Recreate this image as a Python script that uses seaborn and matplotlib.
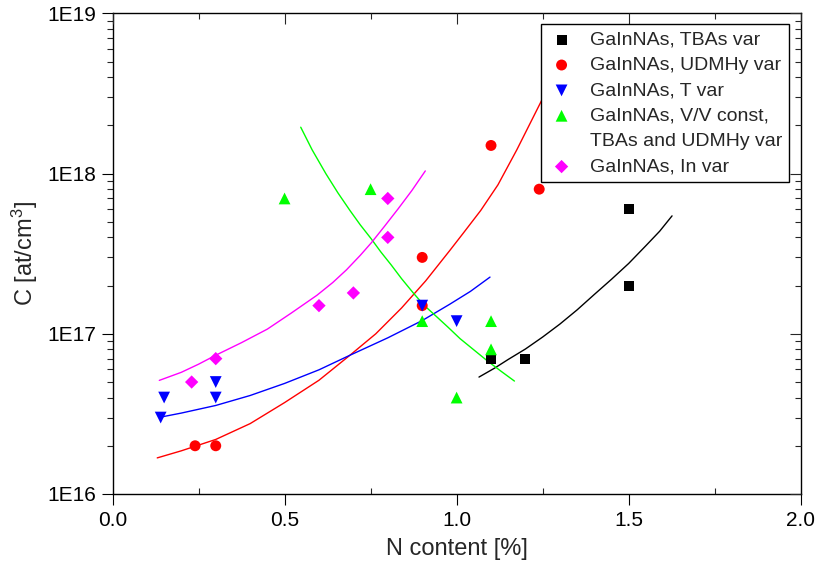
import numpy as np
import pandas as pd
import matplotlib
matplotlib.use("Agg")
import matplotlib.pyplot as plt
import seaborn as sns
from matplotlib.lines import Line2D
from matplotlib.ticker import MultipleLocator, FuncFormatter, NullFormatter, LogLocator

# ------------------------------------------------------------------
# measured points
# ------------------------------------------------------------------
tbas_x = [1.1, 1.2, 1.5, 1.5]
tbas_c = [7e16, 7e16, 6e17, 2e17]

udmhy_x = [0.24, 0.30, 0.90, 0.90, 1.10, 1.24]
udmhy_c = [2e16, 2e16, 3e17, 1.5e17, 1.5e18, 8e17]

tvar_x = [0.14, 0.15, 0.30, 0.30, 0.90, 1.00]
tvar_c = [3e16, 4e16, 4e16, 5e16, 1.5e17, 1.2e17]

vv_x = [0.50, 0.75, 0.90, 1.00, 1.10, 1.10]
vv_c = [7e17, 8e17, 1.2e17, 4e16, 1.2e17, 8e16]

invar_x = [0.23, 0.30, 0.60, 0.70, 0.80, 0.80]
invar_c = [5e16, 7e16, 1.5e17, 1.8e17, 4e17, 7e17]

# fit curves
fit_tbas_x = [1.065, 1.11, 1.15, 1.20, 1.25, 1.30, 1.35, 1.40, 1.45, 1.50,
              1.55, 1.59, 1.626]
fit_tbas_c = [5.37e16, 6.10e16, 6.92e16, 8.04e16, 9.55e16, 1.15e17, 1.41e17,
              1.76e17, 2.19e17, 2.75e17, 3.55e17, 4.37e17, 5.45e17]

fit_udmhy_x = [0.13, 0.20, 0.30, 0.40, 0.50, 0.60, 0.69, 0.765, 0.84, 0.91,
               0.98, 1.02, 1.07, 1.12, 1.175, 1.25, 1.32]
fit_udmhy_c = [1.68e16, 1.86e16, 2.19e16, 2.75e16, 3.72e16, 5.13e16, 7.35e16,
               1.00e17, 1.45e17, 2.14e17, 3.31e17, 4.27e17, 5.89e17, 8.51e17,
               1.41e18, 2.95e18, 6.31e18]

fit_tvar_x = [0.14, 0.20, 0.30, 0.40, 0.50, 0.60, 0.69, 0.80, 0.90, 0.98,
              1.04, 1.097]
fit_tvar_c = [3.02e16, 3.20e16, 3.57e16, 4.12e16, 4.90e16, 5.96e16, 7.35e16,
              9.44e16, 1.21e17, 1.53e17, 1.84e17, 2.26e17]

fit_vv_x = [0.547, 0.58, 0.62, 0.655, 0.69, 0.72, 0.751, 0.78, 0.81, 0.84,
            0.874, 0.905, 0.94, 0.975, 1.01, 1.05, 1.09, 1.13, 1.168]
fit_vv_c = [1.95e18, 1.41e18, 1.00e18, 7.59e17, 5.89e17, 4.79e17, 3.94e17,
            3.24e17, 2.69e17, 2.21e17, 1.80e17, 1.51e17, 1.29e17, 1.10e17,
            9.33e16, 7.94e16, 6.76e16, 5.82e16, 5.07e16]

fit_invar_x = [0.136, 0.20, 0.25, 0.30, 0.375, 0.45, 0.52, 0.594, 0.64, 0.68,
               0.72, 0.753, 0.79, 0.83, 0.87, 0.909]
fit_invar_c = [5.12e16, 5.75e16, 6.46e16, 7.35e16, 8.81e16, 1.07e17, 1.35e17,
               1.74e17, 2.09e17, 2.51e17, 3.09e17, 3.72e17, 4.68e17, 6.03e17,
               7.85e17, 1.04e18]

labels = ["GaInNAs, TBAs var", "GaInNAs, UDMHy var", "GaInNAs, T var",
          "GaInNAs, V/V const,", "GaInNAs, In var"]
label_cont = "TBAs and UDMHy var"   # second line of the V/V entry
colors = ["#000000", "#FF0000", "#0000FF", "#00FF00", "#FF00FF"]
markers = ["s", "o", "v", "^", "D"]
msizes = [52, 62, 72, 72, 46]

series = [(tbas_x, tbas_c), (udmhy_x, udmhy_c), (tvar_x, tvar_c),
          (vv_x, vv_c), (invar_x, invar_c)]
fits = [(fit_tbas_x, fit_tbas_c), (fit_udmhy_x, fit_udmhy_c),
        (fit_tvar_x, fit_tvar_c), (fit_vv_x, fit_vv_c),
        (fit_invar_x, fit_invar_c)]

# ------------------------------------------------------------------
# style
# ------------------------------------------------------------------
sns.set_theme(style="ticks")
plt.rcParams['font.family'] = ['Liberation Sans', 'DejaVu Sans']
plt.rcParams['mathtext.default'] = 'regular'
plt.rcParams['axes.linewidth'] = 1.0
plt.rcParams['axes.edgecolor'] = 'black'

fig = plt.figure(figsize=(8.17, 5.72), dpi=100)
ax = fig.add_axes([0.1377, 0.1364, 0.8424, 0.8400])

for (fx, fc), col in zip(fits, colors):
    df = pd.DataFrame({"x": fx, "c": fc})
    sns.lineplot(data=df, x="x", y="c", color=col, lw=1.0, estimator=None,
                 sort=False, legend=False, ax=ax, zorder=2)

for (sx, sc), lab, col, mk, ms in zip(series, labels, colors, markers, msizes):
    df = pd.DataFrame({"x": sx, "c": sc})
    sns.scatterplot(data=df, x="x", y="c", color=col, marker=mk, s=ms,
                    edgecolor="none", label=lab, ax=ax, zorder=3)

ax.set_yscale("log")
ax.set_xlim(0, 2.0)
ax.set_ylim(1e16, 1e19)
ax.xaxis.set_major_locator(MultipleLocator(0.5))
ax.xaxis.set_minor_locator(MultipleLocator(0.25))
ax.xaxis.set_major_formatter(FuncFormatter(lambda v, _: f"{v:.1f}"))
ax.yaxis.set_major_locator(LogLocator(base=10, numticks=10))
ax.yaxis.set_minor_locator(LogLocator(base=10, subs=np.arange(2, 10), numticks=20))
ax.yaxis.set_major_formatter(FuncFormatter(lambda v, _: f"1E{int(round(np.log10(v)))}"))
ax.yaxis.set_minor_formatter(NullFormatter())

ax.tick_params(which="major", direction="out", length=8, width=0.8,
               labelsize=15, pad=4, colors="black")
ax.tick_params(axis="y", which="minor", direction="out", length=4, width=0.8)
ax.tick_params(axis="x", which="minor", direction="in", length=4, width=0.8)

ax.set_xlabel("N content [%]", fontsize=17, labelpad=6)
ax.set_ylabel("C [at/cm$^3$]", fontsize=17, labelpad=5)

# inward ticks on the opposite spines
ax_r = ax.twinx()
ax_r.set_yscale("log")
ax_r.set_ylim(1e16, 1e19)
ax_r.yaxis.set_major_locator(LogLocator(base=10, numticks=10))
ax_r.yaxis.set_minor_locator(LogLocator(base=10, subs=np.arange(2, 10), numticks=20))
ax_r.tick_params(which="major", direction="in", length=8, width=0.8, labelright=False)
ax_r.tick_params(which="minor", direction="in", length=4, width=0.8, labelright=False)
ax_r.yaxis.set_minor_formatter(NullFormatter())

ax_t = ax.twiny()
ax_t.set_xlim(0, 2.0)
ax_t.xaxis.set_major_locator(MultipleLocator(0.5))
ax_t.xaxis.set_minor_locator(MultipleLocator(0.25))
ax_t.tick_params(which="major", direction="in", length=8, width=0.8, labeltop=False)
ax_t.tick_params(which="minor", direction="in", length=4, width=0.8, labeltop=False)

for a in (ax_r, ax_t):
    for sp in a.spines.values():
        sp.set_visible(False)

handles, labs = ax.get_legend_handles_labels()
if ax.get_legend():
    ax.get_legend().remove()
blank = Line2D([], [], linestyle="none", marker=None)
handles = handles[:4] + [blank] + handles[4:]
labs = labs[:4] + [label_cont] + labs[4:]
leg = ax_t.legend(handles, labs, loc="upper right",
                  bbox_to_anchor=(0.983, 0.9775), bbox_transform=ax.transAxes,
                  borderaxespad=0, fontsize=14, frameon=True, fancybox=False,
                  edgecolor="black", framealpha=1, scatterpoints=1,
                  handlelength=1.45, handletextpad=0.73, borderpad=0.35,
                  labelspacing=0.4)
leg.get_frame().set_linewidth(1.0)
leg.set_zorder(10)

fig.savefig("out.png", dpi=100)
